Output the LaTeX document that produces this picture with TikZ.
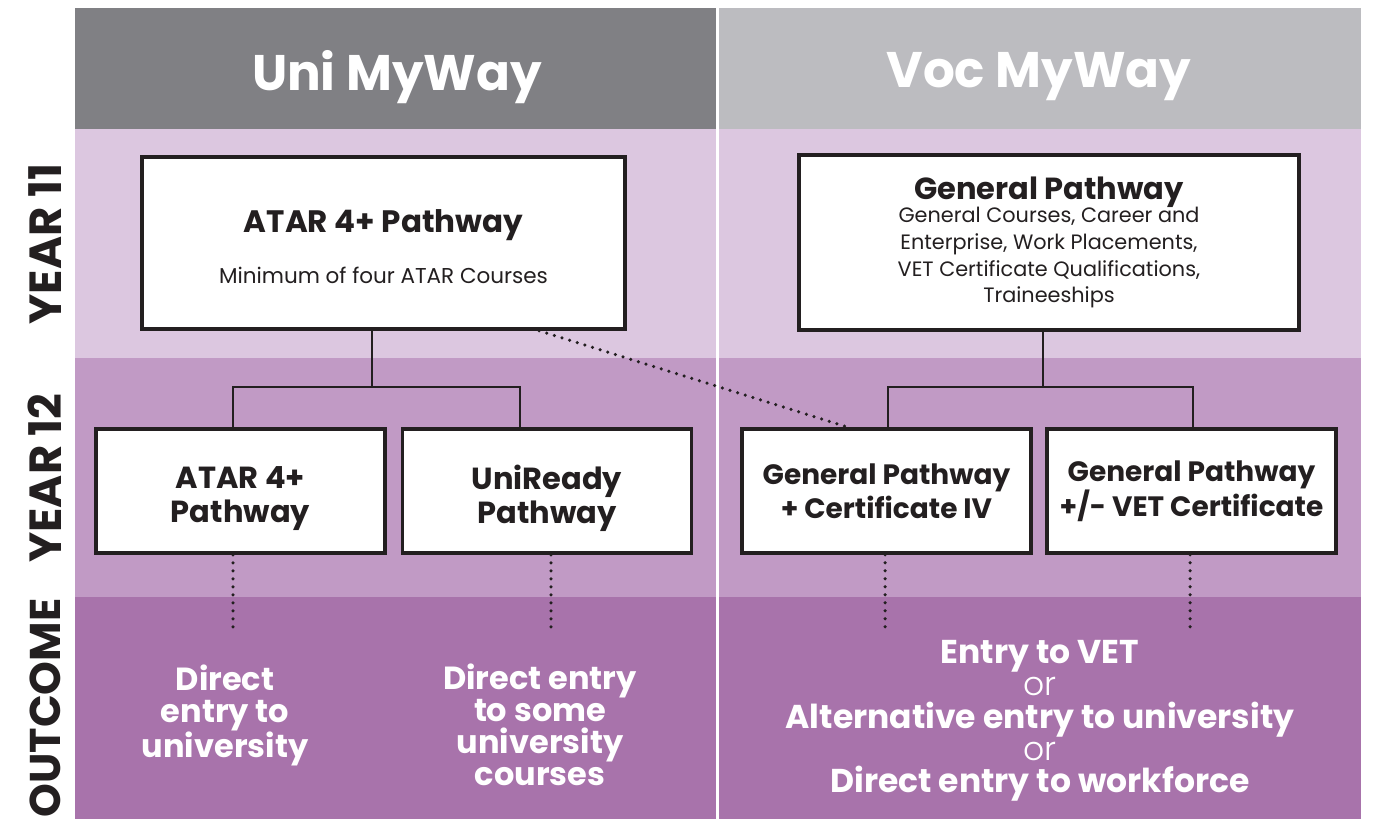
\documentclass[tikz,border=0pt]{standalone}
\usepackage{fontspec}
\setmainfont{Poppins}
\newfontfamily\thinfont{Poppins Light}
\usepackage{tikz}
\usepackage{xcolor}
\usetikzlibrary{
    calc,
    positioning
}
\definecolor{unigrey}{HTML}{808084}
\definecolor{vocgrey}{HTML}{BCBCC0}
\definecolor{yearone}{HTML}{DCC7E0}
\definecolor{yeartwo}{HTML}{C19AC5}
\definecolor{outband}{HTML}{A873AB}
\definecolor{boxline}{HTML}{231F20}
\newcommand{\droptext}[2]{\raisebox{-#1}[\height][\depth]{\begin{tabular}{@{}c@{}}#2\end{tabular}}}
\tikzset{
    pathbox/.style={draw=boxline, line width=3.5pt, fill=white, align=center,
        text=boxline, inner sep=0pt},
    smallbox/.style={pathbox, minimum width=289pt, minimum height=124pt,
        font=\bfseries\fontsize{28}{34}\selectfont},
    outtext/.style={text=white, align=center, font=\bfseries\fontsize{32}{32}\selectfont},
    rowlabel/.style={rotate=90, text=boxline, font=\bfseries\fontsize{45}{45}\selectfont},
    headtext/.style={text=white, font=\bfseries\fontsize{50}{60}\selectfont},
    joint/.style={draw=boxline, line width=2.5pt},
    dots/.style={draw=boxline, line width=3.5pt, line cap=round, dash pattern=on 0pt off 8pt}
}

\begin{document}
\begin{tikzpicture}[x=1pt, y=-1pt]
                                \useasboundingbox (0, 0) rectangle (1374, 819);
                                % bands
                                \fill[unigrey] (75, 8) rectangle (717, 129);
                                \fill[vocgrey] (717, 8) rectangle (1361, 129);
                                \fill[yearone] (75, 129) rectangle (1361, 358);
                                \fill[yeartwo] (75, 358) rectangle (1361, 597);
                                \fill[outband] (75, 597) rectangle (1361, 819);
                                \draw[white, line width=2.5pt] (717.5, 8) -- (717.5, 819);
                                \node[headtext] (uni) at (397, 77) {Uni MyWay};
                                \node[headtext] (voc) at (1039, 77) {Voc MyWay};
                                \node[rowlabel] (y11) at (45, 244) {YEAR 11};
                                \node[rowlabel] (y12) at (45, 478) {YEAR 12};
                                \node[rowlabel, font=\bfseries\fontsize{43}{43}\selectfont] (outc) at (45, 708) {OUTCOME};
                                % year 11
                                \node[pathbox, minimum width=483pt, minimum height=172pt] (atar) at (383.5, 243)
                                    {\droptext{5pt}{\bfseries\fontsize{31}{34}\selectfont ATAR 4+ Pathway\\[31pt]\fontsize{21.5}{24}\selectfont Minimum of four ATAR Courses}};
                                \node[pathbox, minimum width=500pt, minimum height=175pt, font=\fontsize{20.8}{26.7}\selectfont] (gen) at (1049, 242.5)
                                    {{\bfseries\fontsize{30.5}{32}\selectfont General Pathway}\\[-3pt]General Courses, Career and\\Enterprise, Work Placements,\\VET Certificate Qualifications,\\Traineeships};
                                % year 12
                                \node[smallbox, font=\bfseries\fontsize{30.5}{34}\selectfont] (atartwo) at (240.5, 491) {\droptext{8pt}{ATAR 4+\\Pathway}};
                                \node[smallbox, font=\bfseries\fontsize{30.5}{34}\selectfont] (uniready) at (547, 491) {\droptext{8pt}{UniReady\\Pathway}};
                                \node[smallbox] (certfour) at (886.5, 491) {General Pathway\\+ Certificate IV};
                                \node[smallbox] (vet) at (1191.5, 491) {General Pathway\\+/- VET Certificate};
                                \coordinate (ubar) at (372, 387);
                                \coordinate (ul) at (233, 387);
                                \coordinate (ur) at (520, 387);
                                \coordinate (vbar) at (1043, 387);
                                \coordinate (vl) at (888, 387);
                                \coordinate (vr) at (1193, 387);
                                \draw[joint] (atar.south -| ubar) -- (ubar);
                                \draw[joint] (atartwo.north -| ul) -- (ul) -- (ur) -- (uniready.north -| ur);
                                \draw[joint] (gen.south -| vbar) -- (vbar);
                                \draw[joint] (certfour.north -| vl) -- (vl) -- (vr) -- (vet.north -| vr);
                                \coordinate (dstart) at (539, 0);
                                \coordinate (dend) at (848, 0);
                                \draw[dots] (atar.south -| dstart) -- (certfour.north -| dend);
                                % outcome
                                \coordinate (oa) at (233, 632);
                                \coordinate (ob) at (551, 632);
                                \coordinate (oc) at (885, 632);
                                \coordinate (od) at (1190, 632);
                                \draw[dots] (atartwo.south -| oa) -- (oa);
                                \draw[dots] (uniready.south -| ob) -- (ob);
                                \draw[dots] (certfour.south -| oc) -- (oc);
                                \draw[dots] (vet.south -| od) -- (od);
                                \node[outtext] (univ) at (225, 715) {Direct\\entry to\\university};
                                \node[outtext] (some) at (540, 725) {Direct entry\\to some\\university\\courses};
                                \node[outtext, font=\bfseries\fontsize{33}{32.3}\selectfont] (work) at (1040, 721) {Entry to VET\\{\thinfont\mdseries or}\\Alternative entry to university\\{\thinfont\mdseries or}\\Direct entry to workforce};
                            \end{tikzpicture}
\end{document}
